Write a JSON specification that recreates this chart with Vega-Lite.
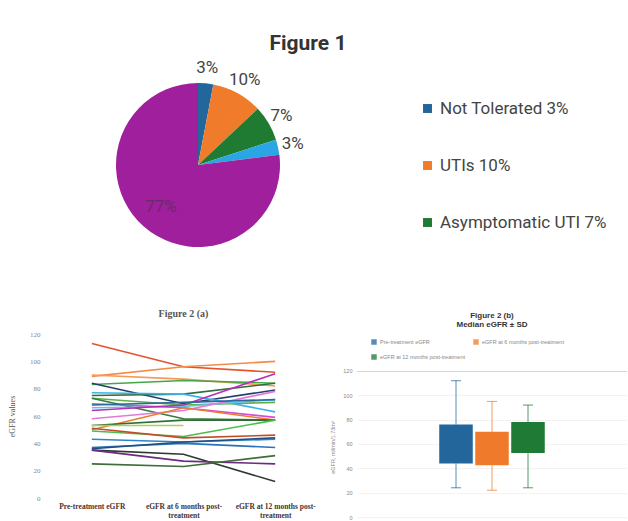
{
  "$schema": "https://vega.github.io/schema/vega-lite/v6.json",
  "background": "white",
  "padding": {"left": 8, "top": 33, "right": 0, "bottom": 0},
  "config": {"view": {"stroke": null}, "axis": {"labelOverlap": false}, "axisY": {"labelOverlap": false}, "axisQuantitative": {"labelOverlap": false}},
  "spacing": 42,
  "resolve": {"scale": {"color": "independent"}, "legend": {"color": "independent"}},
  "vconcat": [
    {
      "width": 304,
      "height": 204,
      "title": {"text": "Figure 1", "font": "Roboto", "fontSize": 21, "fontWeight": "bold", "color": "#333", "frame": "group", "offset": 5, "dx": 110},
      "data": {"values": [
        {"cat": "Not Tolerated 3%", "value": 3, "label": "3%", "k": 1},
        {"cat": "UTIs 10%", "value": 10, "label": "10%", "k": 2},
        {"cat": "Asymptomatic UTI 7%", "value": 7, "label": "7%", "k": 3},
        {"cat": "Other 3%", "value": 3, "label": "3%", "k": 4},
        {"cat": "Tolerated 77%", "value": 77, "label": "77%", "k": 5}
      ]},
      "encoding": {
        "theta": {"field": "value", "type": "quantitative", "stack": true},
        "order": {"field": "k", "type": "quantitative"}
      },
      "layer": [
        {
          "mark": {"type": "arc", "radius": 82},
          "encoding": {
            "color": {
              "field": "cat", "type": "nominal",
              "scale": {"domain": ["Not Tolerated 3%", "UTIs 10%", "Asymptomatic UTI 7%", "Other 3%", "Tolerated 77%"],
                        "range": ["#22669b", "#ef7b2b", "#1f7a32", "#2aa6e4", "#a01f9c"]},
              "legend": {
                "values": ["Not Tolerated 3%", "UTIs 10%", "Asymptomatic UTI 7%"],
                "title": null, "orient": "none", "legendX": 373, "legendY": 37,
                "direction": "vertical", "columns": 1, "symbolType": "square", "symbolSize": 80,
                "labelFont": "Roboto", "labelFontSize": 17, "labelColor": "#444",
                "rowPadding": 39, "labelOffset": 4, "labelLimit": 300
              }
            }
          }
        },
        {
          "mark": {"type": "text", "radius": 97, "font": "Roboto", "fontSize": 17, "color": "#444"},
          "encoding": {
            "text": {"condition": {"test": "datum.value > 50", "value": ""}, "field": "label"}
          }
        },
        {
          "mark": {"type": "text", "radius": 56, "font": "Roboto", "fontSize": 17, "color": "#6a2a6a"},
          "encoding": {
            "text": {"condition": {"test": "datum.value < 50", "value": ""}, "field": "label"}
          }
        }
      ]
    },
    {
      "spacing": 9,
      "resolve": {"scale": {"color": "independent"}, "legend": {"color": "independent"}},
      "hconcat": [
        {
          "width": 275,
          "height": 164,
          "title": {"text": "Figure 2 (a)", "font": "Liberation Serif", "fontSize": 10, "fontWeight": "bold", "color": "#555", "frame": "group", "offset": 11},
          "data": {"values": [
            {"p": "s1", "t": "Pre-treatment eGFR", "v": 113}, {"p": "s1", "t": "eGFR at 6 months post-treatment", "v": 96}, {"p": "s1", "t": "eGFR at 12 months post-treatment", "v": 92},
            {"p": "s2", "t": "Pre-treatment eGFR", "v": 89}, {"p": "s2", "t": "eGFR at 6 months post-treatment", "v": 96}, {"p": "s2", "t": "eGFR at 12 months post-treatment", "v": 100},
            {"p": "s3", "t": "Pre-treatment eGFR", "v": 90}, {"p": "s3", "t": "eGFR at 6 months post-treatment", "v": 87}, {"p": "s3", "t": "eGFR at 12 months post-treatment", "v": 82},
            {"p": "s4", "t": "Pre-treatment eGFR", "v": 83}, {"p": "s4", "t": "eGFR at 6 months post-treatment", "v": 86}, {"p": "s4", "t": "eGFR at 12 months post-treatment", "v": 84},
            {"p": "s5", "t": "Pre-treatment eGFR", "v": 84}, {"p": "s5", "t": "eGFR at 6 months post-treatment", "v": 69}, {"p": "s5", "t": "eGFR at 12 months post-treatment", "v": 79},
            {"p": "s6", "t": "Pre-treatment eGFR", "v": 75}, {"p": "s6", "t": "eGFR at 6 months post-treatment", "v": 76}, {"p": "s6", "t": "eGFR at 12 months post-treatment", "v": 84},
            {"p": "s7", "t": "Pre-treatment eGFR", "v": 77}, {"p": "s7", "t": "eGFR at 6 months post-treatment", "v": 76}, {"p": "s7", "t": "eGFR at 12 months post-treatment", "v": 63},
            {"p": "s8", "t": "Pre-treatment eGFR", "v": 73}, {"p": "s8", "t": "eGFR at 6 months post-treatment", "v": 68}, {"p": "s8", "t": "eGFR at 12 months post-treatment", "v": 70},
            {"p": "s9", "t": "Pre-treatment eGFR", "v": 73}, {"p": "s9", "t": "eGFR at 6 months post-treatment", "v": 58}, {"p": "s9", "t": "eGFR at 12 months post-treatment", "v": 57},
            {"p": "s10", "t": "Pre-treatment eGFR", "v": 66}, {"p": "s10", "t": "eGFR at 6 months post-treatment", "v": 67}, {"p": "s10", "t": "eGFR at 12 months post-treatment", "v": 72},
            {"p": "s11", "t": "Pre-treatment eGFR", "v": 69}, {"p": "s11", "t": "eGFR at 6 months post-treatment", "v": 66}, {"p": "s11", "t": "eGFR at 12 months post-treatment", "v": 59},
            {"p": "s12", "t": "Pre-treatment eGFR", "v": 64}, {"p": "s12", "t": "eGFR at 6 months post-treatment", "v": 68}, {"p": "s12", "t": "eGFR at 12 months post-treatment", "v": 91},
            {"p": "s13", "t": "Pre-treatment eGFR", "v": 58}, {"p": "s13", "t": "eGFR at 6 months post-treatment", "v": 64}, {"p": "s13", "t": "eGFR at 12 months post-treatment", "v": 78},
            {"p": "s14", "t": "Pre-treatment eGFR", "v": 50}, {"p": "s14", "t": "eGFR at 6 months post-treatment", "v": 66}, {"p": "s14", "t": "eGFR at 12 months post-treatment", "v": 57},
            {"p": "s15", "t": "Pre-treatment eGFR", "v": 53}, {"p": "s15", "t": "eGFR at 6 months post-treatment", "v": 57}, {"p": "s15", "t": "eGFR at 12 months post-treatment", "v": 57},
            {"p": "s16", "t": "Pre-treatment eGFR", "v": 53}, {"p": "s16", "t": "eGFR at 6 months post-treatment", "v": 53},
            {"p": "s17", "t": "Pre-treatment eGFR", "v": 49}, {"p": "s17", "t": "eGFR at 6 months post-treatment", "v": 45}, {"p": "s17", "t": "eGFR at 12 months post-treatment", "v": 57},
            {"p": "s18", "t": "Pre-treatment eGFR", "v": 51}, {"p": "s18", "t": "eGFR at 6 months post-treatment", "v": 44}, {"p": "s18", "t": "eGFR at 12 months post-treatment", "v": 46},
            {"p": "s19", "t": "Pre-treatment eGFR", "v": 43}, {"p": "s19", "t": "eGFR at 6 months post-treatment", "v": 41}, {"p": "s19", "t": "eGFR at 12 months post-treatment", "v": 43},
            {"p": "s20", "t": "Pre-treatment eGFR", "v": 37}, {"p": "s20", "t": "eGFR at 6 months post-treatment", "v": 40}, {"p": "s20", "t": "eGFR at 12 months post-treatment", "v": 37},
            {"p": "s21", "t": "Pre-treatment eGFR", "v": 36}, {"p": "s21", "t": "eGFR at 6 months post-treatment", "v": 41}, {"p": "s21", "t": "eGFR at 12 months post-treatment", "v": 44},
            {"p": "s22", "t": "Pre-treatment eGFR", "v": 35}, {"p": "s22", "t": "eGFR at 6 months post-treatment", "v": 32}, {"p": "s22", "t": "eGFR at 12 months post-treatment", "v": 12},
            {"p": "s23", "t": "Pre-treatment eGFR", "v": 35}, {"p": "s23", "t": "eGFR at 6 months post-treatment", "v": 27}, {"p": "s23", "t": "eGFR at 12 months post-treatment", "v": 25},
            {"p": "s24", "t": "Pre-treatment eGFR", "v": 25}, {"p": "s24", "t": "eGFR at 6 months post-treatment", "v": 23}, {"p": "s24", "t": "eGFR at 12 months post-treatment", "v": 31},
            {"p": "s25", "t": "Pre-treatment eGFR", "v": 68}, {"p": "s25", "t": "eGFR at 6 months post-treatment", "v": 70}, {"p": "s25", "t": "eGFR at 12 months post-treatment", "v": 72}
          ]},
          "mark": {"type": "line", "strokeWidth": 1.6},
          "encoding": {
            "x": {
              "field": "t", "type": "nominal",
              "sort": ["Pre-treatment eGFR", "eGFR at 6 months post-treatment", "eGFR at 12 months post-treatment"],
              "scale": {"type": "point", "padding": 0.5},
              "axis": {
                "title": null, "domain": false, "ticks": false, "labelAngle": 0, "labelPadding": 4,
                "labelFont": "Liberation Serif", "labelFontSize": 7.5, "labelFontWeight": "bold", "labelColor": "#4a3333",
                "labelLineHeight": 9, "labelLimit": 200,
                "labelExpr": "datum.label == 'Pre-treatment eGFR' ? datum.label : [replace(datum.label, 'treatment', ''), 'treatment']"
              }
            },
            "y": {
              "field": "v", "type": "quantitative",
              "scale": {"domain": [0, 120]},
              "axis": {
                "title": "eGFR values", "titleFont": "Liberation Serif", "titleFontSize": 8, "titleFontWeight": "normal", "titleColor": "#555",
                "titlePadding": 10, "minExtent": 20, "maxExtent": 20,
                "values": [0, 20, 40, 60, 80, 100, 120], "domain": false, "ticks": false, "grid": false,
                "labelFont": "Liberation Serif", "labelFontSize": 7, "labelColor": "#888", "labelPadding": 6
              }
            },
            "color": {
              "field": "p", "type": "nominal", "legend": null,
              "scale": {
                "domain": ["s1","s2","s3","s4","s5","s6","s7","s8","s9","s10","s11","s12","s13","s14","s15","s16","s17","s18","s19","s20","s21","s22","s23","s24","s25"],
                "range": ["#e3532b","#f58b45","#f39a5a","#43a845","#213f6e","#2e6f3b","#3db3ea","#5bb04c","#367a3e","#67c0ea","#d24fcf","#b52fb8","#e27ad6","#ef7b32","#2f6d35","#a8d15a","#4cbc4e","#c24d28","#2b86cc","#2a72b5","#1f4f82","#2b3b30","#6d2a80","#3c6e35","#2c6a9a"]
              }
            }
          }
        },
        {
          "width": 270,
          "height": 183,
          "title": {"text": ["Figure 2 (b)", "Median eGFR ± SD"], "font": "Liberation Sans", "fontSize": 8, "fontWeight": "bold", "color": "#333", "frame": "group", "offset": 5, "lineHeight": 9},
          "data": {"values": [
            {"group": "Pre-treatment eGFR", "lower": 24, "q1": 44, "q3": 76, "upper": 112},
            {"group": "eGFR at 6 months post-treatment", "lower": 22, "q1": 42.5, "q3": 70, "upper": 95},
            {"group": "eGFR at 12 months post-treatment", "lower": 24, "q1": 52.5, "q3": 78, "upper": 92}
          ]},
          "encoding": {
            "x": {
              "field": "group", "type": "nominal",
              "scale": {"domain": ["a", "b", "Pre-treatment eGFR", "eGFR at 6 months post-treatment", "eGFR at 12 months post-treatment", "c", "d"], "paddingInner": 0.03, "paddingOuter": 0.265},
              "axis": null
            },
            "color": {
              "field": "group", "type": "nominal",
              "scale": {"domain": ["Pre-treatment eGFR", "eGFR at 6 months post-treatment", "eGFR at 12 months post-treatment"], "range": ["#22669b", "#f07a2c", "#1e7a34"]},
              "legend": {
                "title": null, "orient": "none", "legendX": 14, "legendY": 5,
                "direction": "horizontal", "columns": 2, "gridAlign": "none",
                "symbolType": "square", "symbolSize": 30, "symbolStrokeWidth": 0, "columnPadding": 8, "rowPadding": 8,
                "labelFont": "Liberation Sans", "labelFontSize": 5.5, "labelColor": "#888", "labelLimit": 200, "labelOffset": 3
              }
            }
          },
          "layer": [
            {
              "mark": {"type": "bar", "width": {"band": 0.96}},
              "encoding": {
                "y": {
                  "field": "q1", "type": "quantitative", "scale": {"domain": [0, 150.4], "nice": false},
                  "axis": {
                    "title": "eGFR, ml/min/1.73m²", "titleFont": "Liberation Sans", "titleFontSize": 5.5, "titleFontWeight": "normal", "titleColor": "#888",
                    "titlePadding": 8, "minExtent": 14, "maxExtent": 14, "titleY": 113, "labelOverlap": false, "tickCount": 7,
                    "values": [0, 20, 40, 60, 80, 100, 120], "domain": false, "ticks": false,
                    "grid": true, "gridColor": {"condition": {"test": "datum.value == 120", "value": "#d5d5d5"}, "value": "#f3f3f3"},
                    "labelFont": "Liberation Sans", "labelFontSize": 5.5, "labelColor": "#888", "labelPadding": 5
                  }
                },
                "y2": {"field": "q3"}
              }
            },
            {
              "mark": {"type": "rule", "strokeWidth": 1, "opacity": 0.75},
              "encoding": {
                "y": {"field": "lower", "type": "quantitative"},
                "y2": {"field": "q1"}
              }
            },
            {
              "mark": {"type": "rule", "strokeWidth": 1, "opacity": 0.75},
              "encoding": {
                "y": {"field": "q3", "type": "quantitative"},
                "y2": {"field": "upper"}
              }
            },
            {
              "mark": {"type": "tick", "size": 10, "thickness": 1, "opacity": 0.75},
              "encoding": {
                "y": {"field": "upper", "type": "quantitative"}
              }
            },
            {
              "mark": {"type": "tick", "size": 10, "thickness": 1, "opacity": 0.75},
              "encoding": {
                "y": {"field": "lower", "type": "quantitative"}
              }
            }
          ]
        }
      ]
    }
  ]
}
